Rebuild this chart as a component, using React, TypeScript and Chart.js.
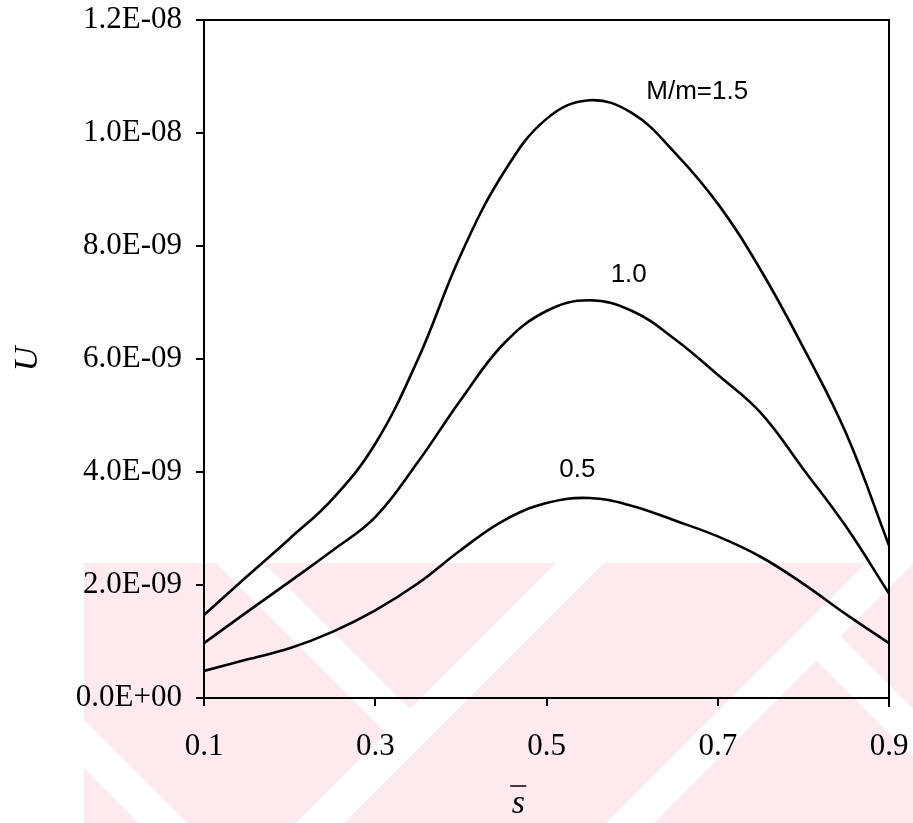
import React, { useEffect, useRef } from "react";
import { Chart, registerables } from "chart.js";

Chart.register(...registerables);

// s̄ positions where the curves were read
const sValues = [0.1, 0.15, 0.2, 0.25, 0.3, 0.35, 0.4, 0.45, 0.5, 0.55, 0.6, 0.65, 0.7, 0.75, 0.8, 0.85, 0.9];

// U values for M/m = 1.5
const uMm15 = [1.47e-9, 2.15e-9, 2.82e-9, 3.52e-9, 4.5e-9, 6.0e-9, 7.85e-9, 9.3e-9, 10.25e-9, 10.58e-9, 10.35e-9, 9.65e-9, 8.75e-9, 7.58e-9, 6.2e-9, 4.68e-9, 2.7e-9];
// U values for M/m = 1.0
const uMm10 = [0.97e-9, 1.52e-9, 2.06e-9, 2.61e-9, 3.2e-9, 4.18e-9, 5.28e-9, 6.27e-9, 6.85e-9, 7.04e-9, 6.85e-9, 6.35e-9, 5.72e-9, 5.05e-9, 4.05e-9, 3.03e-9, 1.85e-9];
// U values for M/m = 0.5
const uMm05 = [0.48e-9, 0.68e-9, 0.88e-9, 1.17e-9, 1.55e-9, 2.03e-9, 2.62e-9, 3.14e-9, 3.45e-9, 3.54e-9, 3.4e-9, 3.14e-9, 2.86e-9, 2.5e-9, 2.02e-9, 1.48e-9, 0.97e-9];

const xTicks = [0.1, 0.3, 0.5, 0.7, 0.9];
const xTickLabels = ["0.1", "0.3", "0.5", "0.7", "0.9"];
const yTicks = [0, 2e-9, 4e-9, 6e-9, 8e-9, 10e-9, 12e-9];
const yTickLabels = ["0.0E+00", "2.0E-09", "4.0E-09", "6.0E-09", "8.0E-09", "1.0E-08", "1.2E-08"];

// curve labels: text, anchor s̄, anchor U
const curveLabels = ["M/m=1.5", "1.0", "0.5"];
const curveLabelS = [0.676, 0.596, 0.536];
const curveLabelU = [10.73e-9, 7.49e-9, 4.04e-9];

const xTitle = "s";
const yTitle = "U";

const SERIF = "'Liberation Serif', 'Times New Roman', serif";
const SANS = "'Liberation Sans', Arial, sans-serif";

const watermarkPlugin = {
  id: "watermark",
  beforeDraw(chart: any) {
    const ctx = chart.ctx;
    ctx.save();
    ctx.fillStyle = "#ffffff";
    ctx.fillRect(0, 0, chart.width, chart.height);
    ctx.beginPath();
    ctx.rect(84, 563, chart.width - 84, chart.height - 563);
    ctx.clip();
    ctx.fillStyle = "#fdeaee";
    ctx.fillRect(84, 563, chart.width - 84, chart.height - 563);
    ctx.strokeStyle = "#ffffff";
    ctx.lineWidth = 34;
    ctx.lineCap = "butt";
    const seg = (x1: number, y1: number, x2: number, y2: number) => {
      ctx.beginPath();
      ctx.moveTo(x1, y1);
      ctx.lineTo(x2, y2);
      ctx.stroke();
    };
    seg(290, 853, 610, 533);
    seg(600, 853, 920, 533);
    seg(225, 548, 415, 738);
    seg(810, 630, 960, 780);
    seg(40, 700, 200, 860);
    ctx.restore();
  },
};

const decorPlugin = {
  id: "decor",
  afterDraw(chart: any) {
    const ctx = chart.ctx;
    const { left, right, top, bottom } = chart.chartArea;
    const xs = chart.scales.x;
    const ys = chart.scales.y;
    ctx.save();
    ctx.strokeStyle = "#000";
    ctx.lineWidth = 2;
    ctx.beginPath();
    ctx.moveTo(left, top);
    ctx.lineTo(right, top);
    ctx.lineTo(right, bottom + 9);
    ctx.stroke();

    ctx.fillStyle = "#000";
    ctx.textAlign = "center";
    ctx.textBaseline = "middle";
    ctx.font = `26px ${SANS}`;
    curveLabels.forEach((t, i) => {
      ctx.fillText(t, xs.getPixelForValue(curveLabelS[i]), ys.getPixelForValue(curveLabelU[i]));
    });

    // x axis title: italic s with an overbar
    const tx = xs.getPixelForValue(0.467);
    const ty = bottom + 103;
    ctx.font = `italic 34px ${SERIF}`;
    ctx.textBaseline = "alphabetic";
    ctx.fillText(xTitle, tx, ty + 12);
    ctx.lineWidth = 1.5;
    ctx.beginPath();
    ctx.moveTo(tx - 8, ty - 15);
    ctx.lineTo(tx + 8, ty - 15);
    ctx.stroke();
    ctx.restore();
  },
};

export default function App() {
  const ref = useRef<HTMLCanvasElement>(null);
  useEffect(() => {
    if (!ref.current) return;
    const mk = (label: string, vals: number[]) => ({
      label,
      data: sValues.map((s, i) => ({ x: s, y: vals[i] })),
      borderColor: "#000",
      backgroundColor: "#000",
      borderWidth: 2.6,
      pointRadius: 0,
      tension: 0.4,
      fill: false,
    });
    const chart = new Chart(ref.current, {
      type: "line",
      data: {
        datasets: [mk("M/m=1.5", uMm15), mk("M/m=1.0", uMm10), mk("M/m=0.5", uMm05)],
      },
      options: {
        animation: false,
        responsive: false,
        maintainAspectRatio: false,
        devicePixelRatio: 1,
        layout: { padding: { top: 20, right: 24, left: 0, bottom: 0 } },
        plugins: { legend: { display: false }, tooltip: { enabled: false } },
        scales: {
          x: {
            type: "linear",
            min: 0.1,
            max: 0.9,
            afterBuildTicks: (s: any) => {
              s.ticks = xTicks.map((v) => ({ value: v }));
            },
            afterFit: (s: any) => {
              s.height = 125;
              s.paddingLeft = 0;
              s.paddingRight = 0;
            },
            ticks: {
              callback: (_v: any, i: number) => xTickLabels[i],
              font: { family: SERIF, size: 31 },
              color: "#000",
              padding: 22,
              maxRotation: 0,
              autoSkip: false,
            },
            grid: { drawOnChartArea: false, drawTicks: true, tickLength: 8, color: "#000", lineWidth: 2 },
            border: { color: "#000", width: 2 },
          },
          y: {
            type: "linear",
            min: 0,
            max: 1.2e-8,
            afterBuildTicks: (s: any) => {
              s.ticks = yTicks.map((v) => ({ value: v }));
            },
            afterFit: (s: any) => {
              s.width = 204;
              s.paddingTop = 0;
              s.paddingBottom = 0;
            },
            ticks: {
              callback: (_v: any, i: number) => yTickLabels[i],
              font: { family: SERIF, size: 31 },
              color: "#000",
              padding: 14,
              autoSkip: false,
            },
            grid: { drawOnChartArea: false, drawTicks: true, tickLength: 8, color: "#000", lineWidth: 2 },
            border: { color: "#000", width: 2 },
            title: {
              display: true,
              text: yTitle,
              font: { family: SERIF, size: 34, style: "italic" },
              color: "#000",
              padding: { top: 8, bottom: 0 },
            },
          },
        },
      },
      plugins: [watermarkPlugin, decorPlugin],
    });
    return () => chart.destroy();
  }, []);
  return (
    <div style={{ position: "fixed", left: 0, top: 0, width: 913, height: 823 }}>
      <canvas ref={ref} width={913} height={823} style={{ width: 913, height: 823, display: "block" }} />
    </div>
  );
}
